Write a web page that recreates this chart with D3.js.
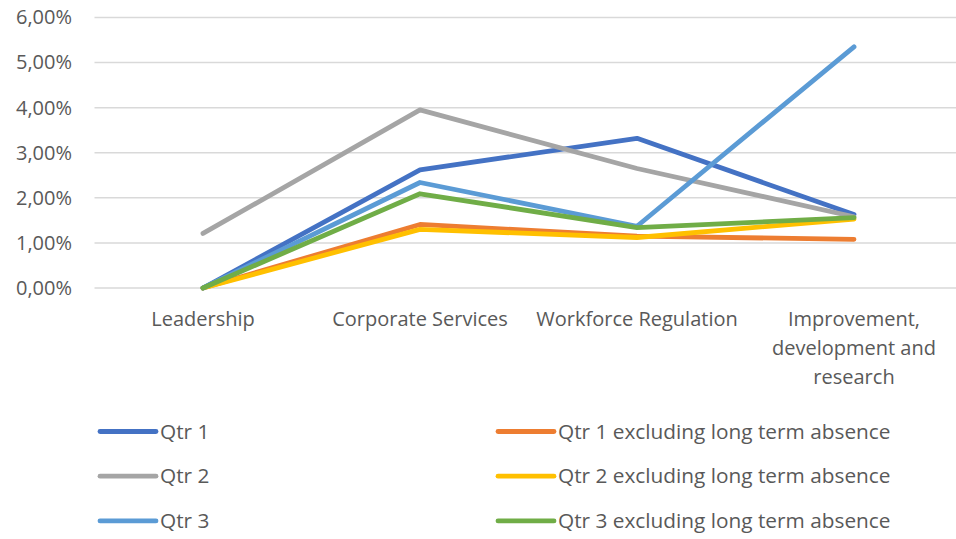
<!DOCTYPE html>
<html>
<head>
<meta charset="utf-8">
<script src="https://cdn.jsdelivr.net/npm/d3@7"></script>
<style>
  body { margin: 0; background: #fff; }
  text { font-family: "Open Sans", sans-serif; fill: #595959; }
</style>
</head>
<body>
<div id="chart"></div>
<script>
// Chart data
const categories = ['Leadership', 'Corporate Services', 'Workforce Regulation', 'Improvement, development and research'];
const seriesNames = [
  'Qtr 1', 'Qtr 1 excluding long term absence',
  'Qtr 2', 'Qtr 2 excluding long term absence',
  'Qtr 3', 'Qtr 3 excluding long term absence'
];
const qtr1 = [0, 0.0262, 0.0332, 0.0163];
const qtr1Excl = [0, 0.0141, 0.0115, 0.0108];
const qtr2 = [0.0121, 0.0395, 0.0265, 0.0158];
const qtr2Excl = [0, 0.0130, 0.0112, 0.0153];
const qtr3 = [0, 0.0234, 0.0137, 0.0535];
const qtr3Excl = [0, 0.0209, 0.0134, 0.0156];
const yTicks = [0, 0.01, 0.02, 0.03, 0.04, 0.05, 0.06];
const colors = ['#4472C4', '#ED7D31', '#A5A5A5', '#FFC000', '#5B9BD5', '#70AD47'];

const series = [qtr1, qtr1Excl, qtr2, qtr2Excl, qtr3, qtr3Excl].map((values, i) => ({
  name: seriesNames[i], values, color: colors[i]
}));

const width = 956;
const height = 539;
const plot = { left: 94.5, right: 962.5, top: 17.5, bottom: 288 };

const svg = d3.select('#chart')
  .append('svg')
  .attr('width', width)
  .attr('height', height);

const x = d3.scaleBand()
  .domain(categories)
  .range([plot.left, plot.right]);

const y = d3.scaleLinear()
  .domain([0, 0.06])
  .range([plot.bottom, plot.top]);

const fmt = v => d3.format('.2f')(v * 100).replace('.', ',') + '%';

// Gridlines
svg.append('g')
  .selectAll('line')
  .data(yTicks)
  .join('line')
  .attr('x1', plot.left)
  .attr('x2', width)
  .attr('y1', d => y(d))
  .attr('y2', d => y(d))
  .attr('stroke', '#d9d9d9')
  .attr('stroke-width', 1.5);

// Y axis labels
const yAxis = svg.append('g')
  .attr('transform', 'translate(72,0)')
  .call(d3.axisLeft(y).tickValues(yTicks).tickFormat(fmt).tickSize(0).tickPadding(0));
yAxis.select('.domain').remove();
yAxis.selectAll('text')
  .attr('font-size', 20)
  .attr('font-family', '"Open Sans", sans-serif')
  .attr('fill', '#595959');

// X axis labels
const xAxis = svg.append('g')
  .attr('transform', `translate(0,${plot.bottom})`)
  .call(d3.axisBottom(x).tickSize(0).tickPadding(0));
xAxis.select('.domain').remove();
xAxis.selectAll('text')
  .attr('font-size', 20)
  .attr('font-family', '"Open Sans", sans-serif')
  .attr('fill', '#595959')
  .attr('dy', null)
  .attr('y', 38)
  .call(wrap, 210);

function wrap(texts, maxWidth) {
  texts.each(function () {
    const text = d3.select(this);
    const words = text.text().split(/\s+/);
    text.text(null);
    let line = [];
    let lineNo = 0;
    let tspan = text.append('tspan').attr('x', 0).attr('y', 38);
    words.forEach(word => {
      line.push(word);
      tspan.text(line.join(' '));
      if (tspan.node().getComputedTextLength() > maxWidth && line.length > 1) {
        line.pop();
        tspan.text(line.join(' '));
        line = [word];
        lineNo++;
        tspan = text.append('tspan').attr('x', 0).attr('y', 38 + lineNo * 29).text(word);
      }
    });
  });
}

// Lines
const line = d3.line()
  .x((d, i) => x(categories[i]) + x.bandwidth() / 2)
  .y(d => y(d));

svg.append('g')
  .selectAll('path')
  .data(series)
  .join('path')
  .attr('d', d => line(d.values))
  .attr('fill', 'none')
  .attr('stroke', d => d.color)
  .attr('stroke-width', 4.8)
  .attr('stroke-linecap', 'round')
  .attr('stroke-linejoin', 'round');

// Legend: two columns, filled row by row
const legend = svg.append('g')
  .selectAll('g')
  .data(series)
  .join('g')
  .attr('transform', (d, i) => `translate(${i % 2 === 0 ? 100 : 498},${431.5 + Math.floor(i / 2) * 44.7})`);

legend.append('line')
  .attr('x1', 0)
  .attr('x2', 56)
  .attr('stroke', d => d.color)
  .attr('stroke-width', 4.8)
  .attr('stroke-linecap', 'round');

legend.append('text')
  .attr('x', 60)
  .attr('dy', '0.35em')
  .attr('font-size', 20.8)
  .text(d => d.name);
</script>
</body>
</html>
